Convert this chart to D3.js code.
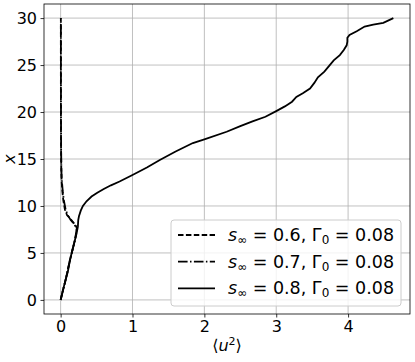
<!DOCTYPE html>
<html><head><meta charset="utf-8">
<script src="https://cdn.jsdelivr.net/npm/d3@7"></script>
<style>
body{margin:0;background:#fff;}
svg{display:block;font-family:"DejaVu Sans",sans-serif;}
text{white-space:pre;}
</style></head>
<body><div id="chart"></div>
<script>
// ---- data: each series is a profile of <u^2> (horizontal) against x (vertical)
const xPos06 = [0,2,4.25,6.4,7.0,7.6,8.0,8.3,8.7,9.0,9.6,10.6,11.5,12.4,13.1,14,16,20,25,30];
const u2_06  = [0,0.065,0.13,0.2,0.215,0.228,0.205,0.17,0.13,0.09,0.06,0.037,0.025,0.016,0.012,0.009,0.006,0.004,0.003,0.003];

const xPos07 = [0,2,4.25,6.4,7.0,7.5,7.9,8.2,8.5,9.0,9.6,10.6,11.5,12.4,13.1,14,16,20,25,30];
const u2_07  = [0,0.065,0.13,0.2,0.212,0.222,0.2,0.175,0.14,0.1,0.07,0.045,0.03,0.02,0.014,0.01,0.007,0.005,0.004,0.003];

const xPos08 = [0,1,2,3,4.25,5.5,6.4,7.0,7.8,8.5,8.9,9.5,10.0,10.5,11.0,11.4,11.8,12.2,12.6,13.3,14.1,14.9,15.8,16.7,17.1,17.9,18.5,19.0,19.5,20.1,20.6,21.1,21.6,22.0,22.5,23.1,23.7,24.3,25.0,25.5,26.06,26.6,27.1,27.5,27.9,28.2,28.6,29.1,29.3,29.5,30];
const u2_08  = [0,0.03,0.065,0.1,0.13,0.17,0.2,0.22,0.24,0.245,0.255,0.28,0.31,0.36,0.43,0.51,0.6,0.7,0.82,1.0,1.2,1.38,1.6,1.84,2.0,2.31,2.5,2.67,2.85,3.0,3.12,3.22,3.28,3.37,3.47,3.53,3.58,3.67,3.745,3.8,3.885,3.94,3.98,3.99,3.99,4.02,4.12,4.23,4.35,4.49,4.63];

const seriesNames = ["0.6","0.7","0.8"];
const gammaLabel = "0.08";
const xTicks = [0,1,2,3,4];
const yTicks = [0,5,10,15,20,25,30];

// ---- drawing
const W = 415, H = 362;
const m = {l:44, r:5, t:4, b:48};
const svg = d3.select("#chart").append("svg").attr("width",W).attr("height",H);

const xs = d3.scaleLinear().domain([-0.2315, 4.8615]).range([m.l, W-m.r]);
const ys = d3.scaleLinear().domain([-1.5, 31.5]).range([H-m.b, m.t]);

// grid
const g = svg.append("g");
g.selectAll(".gx").data(xTicks).enter().append("line")
  .attr("x1",d=>xs(d)).attr("x2",d=>xs(d)).attr("y1",m.t).attr("y2",H-m.b)
  .attr("stroke","#b0b0b0").attr("stroke-width",0.8);
g.selectAll(".gy").data(yTicks).enter().append("line")
  .attr("y1",d=>ys(d)).attr("y2",d=>ys(d)).attr("x1",m.l).attr("x2",W-m.r)
  .attr("stroke","#b0b0b0").attr("stroke-width",0.8);

// curves
const series = [
  {x:xPos06, u:u2_06, dash:"5.5,2.4"},
  {x:xPos07, u:u2_07, dash:"9.6,2.4,1.5,2.4"},
  {x:xPos08, u:u2_08, dash:null}
];
const line = d3.line().x(d=>xs(d[0])).y(d=>ys(d[1]));
series.forEach(s=>{
  const pts = s.x.map((v,i)=>[s.u[i], v]);
  svg.append("path").attr("d",line(pts)).attr("fill","none")
    .attr("stroke","#000").attr("stroke-width",1.8)
    .attr("stroke-dasharray", s.dash);
});

// axes
const xAxis = d3.axisBottom(xs).tickValues(xTicks).tickSize(3.5).tickPadding(3.5).tickFormat(d3.format("d"));
const yAxis = d3.axisLeft(ys).tickValues(yTicks).tickSize(3.5).tickPadding(3.5).tickFormat(d3.format("d"));
const gx = svg.append("g").attr("transform",`translate(0,${H-m.b})`).call(xAxis);
const gy = svg.append("g").attr("transform",`translate(${m.l},0)`).call(yAxis);
[gx,gy].forEach(a=>{
  a.select(".domain").remove();
  a.selectAll("text").attr("font-size",16).attr("font-family","DejaVu Sans").attr("fill","#000");
  a.selectAll("line").attr("stroke","#000").attr("stroke-width",0.8);
});
svg.append("rect").attr("x",m.l).attr("y",m.t).attr("width",W-m.r-m.l).attr("height",H-m.b-m.t)
  .attr("fill","none").attr("stroke","#000").attr("stroke-width",0.8);

// axis labels
const xl = svg.append("text").attr("x",(m.l+W-m.r)/2).attr("y",351).attr("text-anchor","middle").attr("font-size",16);
xl.append("tspan").text("\u27E8");
xl.append("tspan").attr("font-style","italic").text("u");
xl.append("tspan").attr("font-size",11).attr("dy",-6).text("2");
xl.append("tspan").attr("dy",6).text("\u27E9");

svg.append("text").attr("transform",`translate(15,${(m.t+H-m.b)/2}) rotate(-90)`)
  .attr("text-anchor","middle").attr("font-size",16).attr("font-style","italic").text("x");

// legend
const lg = svg.append("g");
lg.append("rect").attr("x",171).attr("y",220).attr("width",230).attr("height",86).attr("rx",3)
  .attr("fill","#fff").attr("fill-opacity",0.8).attr("stroke","#cccccc").attr("stroke-width",1);
series.forEach((s,i)=>{
  const yy = 235 + i*26.7;
  lg.append("line").attr("x1",178).attr("x2",215).attr("y1",yy).attr("y2",yy)
    .attr("stroke","#000").attr("stroke-width",1.8).attr("stroke-dasharray",s.dash);
  const t = lg.append("text").attr("x",228).attr("y",yy+6).attr("font-size",17.5);
  t.append("tspan").attr("font-style","italic").text("s");
  t.append("tspan").attr("font-size",12).attr("dy",3).text("\u221E");
  t.append("tspan").attr("dy",-3).text(" = " + seriesNames[i] + ", \u0393");
  t.append("tspan").attr("font-size",12).attr("dy",3).text("0");
  t.append("tspan").attr("dy",-3).text(" = " + gammaLabel);
});
</script>
</body></html>
